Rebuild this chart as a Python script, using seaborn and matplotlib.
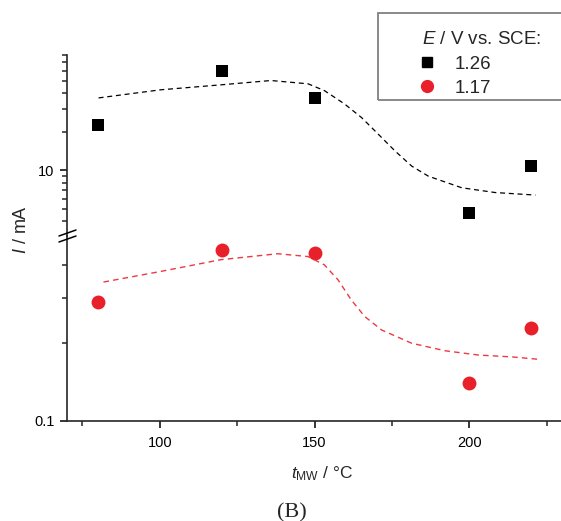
import matplotlib
matplotlib.use("Agg")
import matplotlib.pyplot as plt
import seaborn as sns
from matplotlib.ticker import FixedLocator, FixedFormatter, NullFormatter
from matplotlib.lines import Line2D
from matplotlib.patches import Rectangle

# measured points
t_mw = [80, 120, 150, 200, 220]
i_126 = [22.7, 59.7, 36.6, 4.64, 10.8]   # E = 1.26 V, mA
i_117 = [0.288, 0.457, 0.447, 0.140, 0.230]  # E = 1.17 V, mA

# fitted curves
fit_t_126 = [80.2, 100.2, 119.7, 135.9, 147.9, 153.2, 159.7, 165.2, 170.6, 176.0, 181.4, 186.8, 197.6, 208.4, 221.4]
fit_126 = [36.9, 42.7, 46.7, 50.5, 47.6, 42.1, 33.1, 25.9, 19.2, 14.2, 10.8, 9.0, 7.3, 6.7, 6.4]
fit_t_117 = [81.8, 100.2, 119.7, 138.1, 147.9, 153.2, 157.6, 161.9, 166.2, 171.7, 181.4, 192.2, 203.0, 213.9, 223.1]
fit_117 = [0.345, 0.379, 0.421, 0.444, 0.433, 0.402, 0.352, 0.294, 0.254, 0.225, 0.200, 0.187, 0.180, 0.177, 0.173]

x_major = [100, 150, 200]
x_minor = [75, 125, 175, 225]

sns.set_style("ticks")
plt.rcParams['font.family'] = ['Liberation Sans', 'DejaVu Sans']
plt.rcParams['mathtext.fontset'] = 'custom'
plt.rcParams['mathtext.rm'] = 'Liberation Sans'
plt.rcParams['mathtext.it'] = 'Liberation Sans:italic'

RED = '#e8202a'
W, H = 561, 521
fx = lambda px: px / W
fy = lambda py: 1 - py / H

fig = plt.figure(figsize=(W / 100, H / 100), dpi=100)
ax_top = fig.add_axes([fx(67), fy(236), fx(562) - fx(67), fy(55) - fy(236)])
ax_bot = fig.add_axes([fx(67), fy(421), fx(562) - fx(67), fy(236) - fy(421)])

sns.lineplot(x=fit_t_126, y=fit_126, ax=ax_top, color='black', lw=0.9,
             linestyle=(0, (4, 3)), sort=False, estimator=None)
sns.scatterplot(x=t_mw, y=i_126, ax=ax_top, marker='s', color='black', s=80, linewidth=0)
sns.lineplot(x=fit_t_117, y=fit_117, ax=ax_bot, color='#ec3a43', lw=1.0,
             linestyle=(0, (4, 3)), sort=False, estimator=None)
sns.scatterplot(x=t_mw, y=i_117, ax=ax_bot, marker='o', color=RED, s=100, linewidth=0)

for ax in (ax_top, ax_bot):
    ax.set_yscale('log')
    ax.set_xlim(70, 230)
    ax.spines['top'].set_visible(False)
    ax.spines['right'].set_visible(False)
    ax.spines['left'].set_linewidth(1.2)
    ax.spines['bottom'].set_linewidth(1.2)
    ax.yaxis.set_minor_formatter(NullFormatter())
    ax.tick_params(axis='both', which='major', direction='out', length=5, width=1.1,
                   labelsize=10.5, colors='black', pad=4)
    ax.tick_params(axis='both', which='minor', direction='out', length=3.5, width=1.1)
    ax.set_xlabel('')
    ax.set_ylabel('')
    ax.patch.set_alpha(0)

ax_top.set_ylim(3.06, 80)
ax_top.spines['bottom'].set_visible(False)
ax_top.tick_params(axis='x', which='both', bottom=False, labelbottom=False)
ax_top.yaxis.set_major_locator(FixedLocator([10]))
ax_top.yaxis.set_major_formatter(FixedFormatter(['10']))
ax_top.yaxis.set_minor_locator(FixedLocator([4, 5, 6, 7, 8, 9, 20, 30, 40, 50, 60, 70, 80]))

ax_bot.set_ylim(0.1, 0.52)
ax_bot.yaxis.set_major_locator(FixedLocator([0.1]))
ax_bot.yaxis.set_major_formatter(FixedFormatter(['0.1']))
ax_bot.yaxis.set_minor_locator(FixedLocator([0.2, 0.3, 0.4]))
ax_bot.xaxis.set_major_locator(FixedLocator(x_major))
ax_bot.xaxis.set_minor_locator(FixedLocator(x_minor))
ax_bot.tick_params(axis='x', which='major', pad=6)

# axis break marks
for dy in (-3, 3):
    fig.add_artist(Line2D([fx(59), fx(76)], [fy(239 + dy), fy(233 + dy)], color='black', lw=1.1))

fig.text(fx(22), fy(230), '$I$ / mA', rotation=90, ha='center', va='center', fontsize=13)
fig.text(fx(322), fy(478), r'$t_{\mathrm{MW}}$ / °C', ha='center', va='baseline', fontsize=12.5)
fig.text(fx(292), fy(517), '(B)', ha='center', va='baseline', fontsize=16,
         family=['Liberation Serif', 'DejaVu Serif'])

# legend
fig.add_artist(Rectangle((fx(378), fy(100)), fx(600) - fx(378), fy(13) - fy(100),
                         transform=fig.transFigure, fill=False, edgecolor='#808080', lw=1.3))
handles = [Line2D([], [], marker='s', color='black', linestyle='', markersize=7),
           Line2D([], [], marker='o', color=RED, linestyle='', markersize=8.5)]
fig.legend(handles, ['1.26', '1.17'], title='$E$ / V vs. SCE:', loc='upper left',
           bbox_to_anchor=(fx(413), fy(22)), frameon=False, fontsize=13.5, title_fontsize=13.5,
           alignment='left', borderpad=0, handlelength=0.5, handletextpad=1.2,
           labelspacing=0.38)

fig.savefig('out.png', dpi=100)
